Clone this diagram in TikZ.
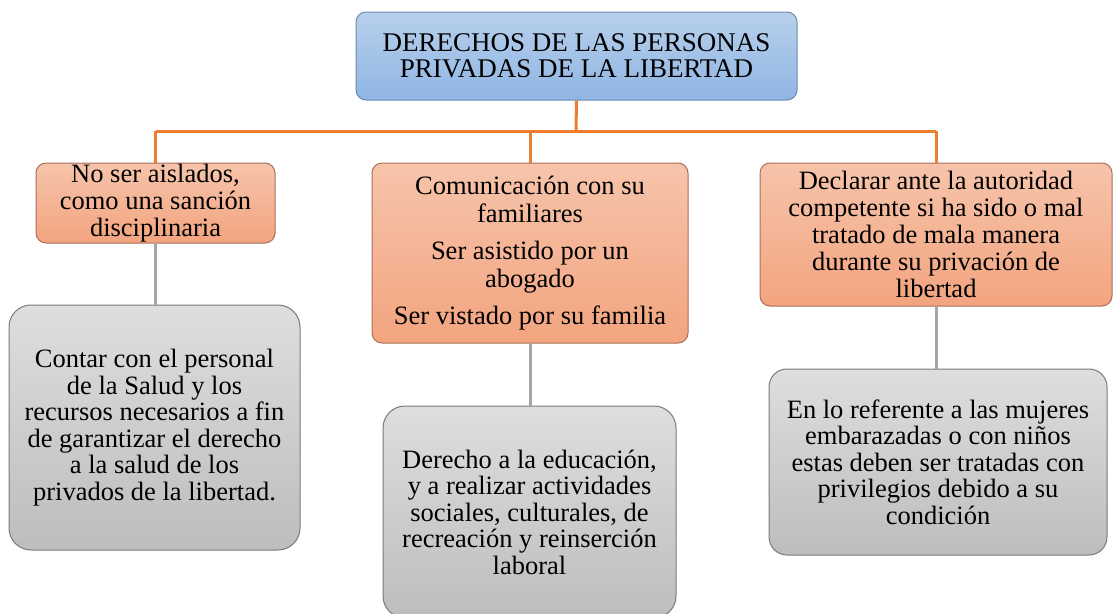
\documentclass[tikz,border=0pt]{standalone}
\usepackage{fontspec}
\setmainfont{Liberation Serif}
\definecolor{orln}{HTML}{ED7D31}
\definecolor{grln}{HTML}{A5A5A5}
\definecolor{bltop}{HTML}{B8D0EC}
\definecolor{blbot}{HTML}{8FB5E3}
\definecolor{bledge}{HTML}{6C8BAE}
\definecolor{ortop}{HTML}{F6C4AB}
\definecolor{orbot}{HTML}{F3A47F}
\definecolor{oredge}{HTML}{A8705A}
\definecolor{grtop}{HTML}{DEDEDE}
\definecolor{grbot}{HTML}{BDBDBD}
\definecolor{gredge}{HTML}{7A7A7A}
\tikzset{
  box/.style={rectangle, inner sep=0pt, align=center, line width=1pt,
    font=\fontsize{26.5}{27}\selectfont},
  bluebox/.style={box, draw=bledge, top color=bltop, bottom color=blbot, rounded corners=10pt,
    font=\fontsize{27}{26.5}\selectfont},
  orbox/.style={box, draw=oredge, top color=ortop, bottom color=orbot, rounded corners=10pt},
  grbox/.style={box, draw=gredge, top color=grtop, bottom color=grbot, rounded corners=22pt,
    font=\fontsize{26.5}{26.5}\selectfont},
  orconn/.style={draw=orln, line width=3pt},
  grconn/.style={draw=grln, line width=3pt}
}
\begin{document}
\begin{tikzpicture}[x=1pt,y=-1pt]
\clip (0,0) rectangle (1113,613);
\fill[white] (0,0) rectangle (1113,613);
\node[bluebox, minimum width=441pt, minimum height=88pt] (top) at (576.5,56) {DERECHOS DE LAS PERSONAS\\PRIVADAS DE LA LIBERTAD};
\node[orbox, minimum width=239pt, minimum height=80pt] (b1) at (155.5,203) {No ser aislados,\\como una sanción\\disciplinaria};
\node[orbox, minimum width=316pt, minimum height=180pt, font=\fontsize{26.5}{28}\selectfont] (b2) at (530,253) {Comunicación con su\\familiares\\[9pt]Ser asistido por un\\abogado\\[9pt]Ser vistado por su familia};
\node[orbox, minimum width=352pt, minimum height=143pt] (b3) at (936,234.5) {Declarar ante la autoridad\\competente si ha sido o mal\\tratado de mala manera\\durante su privación de\\libertad};
\node[grbox, minimum width=291pt, minimum height=245pt] (b4) at (154.5,427.5) {Contar con el personal\\de la Salud y los\\recursos necesarios a fin\\de garantizar el derecho\\a la salud de los\\privados de la libertad.};
\node[grbox, minimum width=293pt, minimum height=212pt] (b5) at (529.5,512) {Derecho a la educación,\\y a realizar actividades\\sociales, culturales, de\\recreación y reinserción\\laboral};
\node[grbox, minimum width=338pt, minimum height=186pt, rounded corners=18pt] (b6) at (938,462) {En lo referente a las mujeres\\embarazadas o con niños\\estas deben ser tratadas con\\privilegios debido a su\\condición};
\coordinate (j) at (576,131);
\draw[orconn] (top.south) -- (j);
\draw[orconn] (b1.north |- j) -- (b3.north |- j);
\draw[orconn] (b1.north |- j) -- (b1.north);
\draw[orconn] (b2.north |- j) -- (b2.north);
\draw[orconn] (b3.north |- j) -- (b3.north);
\draw[grconn] (b1.south) -- (b1.south |- b4.north);
\draw[grconn] (b2.south) -- (b2.south |- b5.north);
\draw[grconn] (b3.south) -- (b3.south |- b6.north);
\end{tikzpicture}
\end{document}
